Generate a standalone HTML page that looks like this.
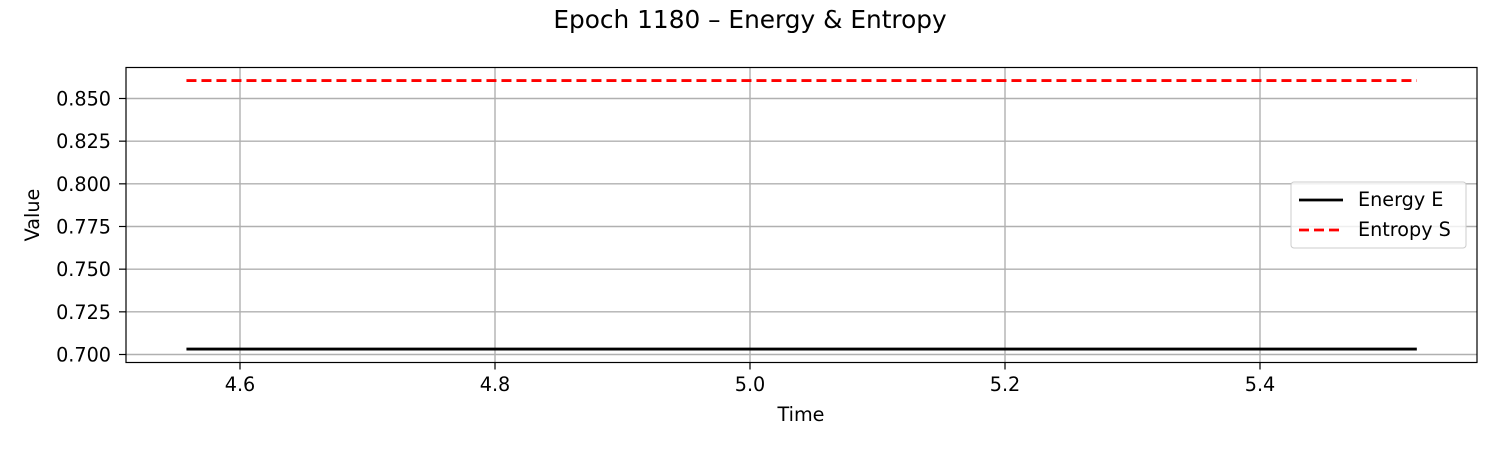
<!DOCTYPE html>
<html><head><meta charset="utf-8"><style>
body{margin:0;background:#fff;}
svg text{font-family:"DejaVu Sans","Liberation Sans",sans-serif;fill:#000;}
</style></head><body>
<svg id="chart" width="1500" height="450" xmlns="http://www.w3.org/2000/svg">
<text x="750" y="28" font-size="24.8" text-anchor="middle">Epoch 1180 – Energy &amp; Entropy</text>
<g id="grid"></g>
<g id="series"></g>
<rect x="126" y="67.5" width="1351" height="295" fill="none" stroke="#000" stroke-width="1.2"/>
<g id="ticks"></g>
<text x="801" y="421" font-size="19.2" text-anchor="middle">Time</text>
<text transform="translate(39,215) rotate(-90)" font-size="19.2" text-anchor="middle">Value</text>
<g>
<rect x="1291" y="182" width="175" height="66" rx="3" fill="#fff" fill-opacity="0.8" stroke="#ccc"/>
<line x1="1299" y1="200" x2="1343" y2="200" stroke="#000" stroke-width="2.8"/>
<text x="1358" y="206" font-size="19.2">Energy E</text>
<line x1="1299" y1="230" x2="1343" y2="230" stroke="#f00" stroke-width="2.8" stroke-dasharray="10,5"/>
<text x="1358" y="236" font-size="19.2">Entropy S</text>
</g>
</svg>
<script>
const xTicks = [4.6, 4.8, 5.0, 5.2, 5.4];
const yTicks = [0.700, 0.725, 0.750, 0.775, 0.800, 0.825, 0.850];
const timeRange = [4.558, 5.523];
const energyValues = [0.7032, 0.7032];
const entropyValues = [0.8605, 0.8605];

const NS = "http://www.w3.org/2000/svg";
function X(v){ return 750 + (v - 5.0) * 1275; }
function Y(v){ return 354.5 - (v - 0.700) * 1706.7; }
function mk(tag, attrs, parent){
  const el = document.createElementNS(NS, tag);
  for (const k in attrs) el.setAttribute(k, attrs[k]);
  parent.appendChild(el);
  return el;
}
const grid = document.getElementById('grid');
const ticks = document.getElementById('ticks');
const series = document.getElementById('series');
xTicks.forEach(t => {
  const g = mk('line', {x1:X(t), x2:X(t), y1:67.5, y2:362.5, stroke:'#b0b0b0', 'stroke-width':1.4}, grid);
  
  
  const tk = mk('line', {x1:X(t), x2:X(t), y1:362.5, y2:369.5, stroke:'#000', 'stroke-width':1.2}, ticks);
  
  
  const tx = mk('text', {x:X(t), y:391, 'font-size':19.2, 'text-anchor':'middle'}, ticks);
  tx.textContent = t.toFixed(1);
  
  
});
yTicks.forEach(t => {
  const g = mk('line', {x1:126, x2:1477, y1:Y(t), y2:Y(t), stroke:'#b0b0b0', 'stroke-width':1.4}, grid);
  
  
  const tk = mk('line', {x1:119, x2:126, y1:Y(t), y2:Y(t), stroke:'#000', 'stroke-width':1.2}, ticks);
  
  
  const tx = mk('text', {x:111, y:Y(t)+7, 'font-size':19.2, 'text-anchor':'end'}, ticks);
  tx.textContent = t.toFixed(3);
  
  
});
function pts(vals){
  return vals.map((v,i) => X(timeRange[0] + (timeRange[1]-timeRange[0]) * i/(vals.length-1)) + ',' + Y(v)).join(' ');
}
const e = mk('polyline', {points:pts(energyValues), fill:'none', stroke:'#000', 'stroke-width':2.8}, series);


const s = mk('polyline', {points:pts(entropyValues), fill:'none', stroke:'#f00', 'stroke-width':2.8, 'stroke-dasharray':'10,5'}, series);


</script>
</body></html>
